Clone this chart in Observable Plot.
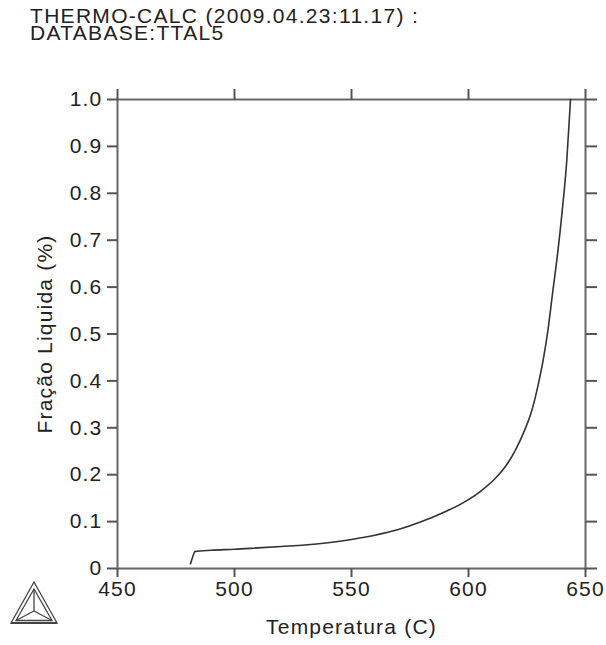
<!DOCTYPE html>
<html>
<head>
<meta charset="utf-8">
<script src="https://cdn.jsdelivr.net/npm/d3@7"></script>
<script src="https://cdn.jsdelivr.net/npm/@observablehq/plot@0.6"></script>
<style>
  html, body { margin: 0; padding: 0; background: #fff; }
  #wrap { position: relative; width: 606px; height: 645px; overflow: hidden; font-family: "Liberation Sans", Arial, sans-serif; }
  #title { position: absolute; left: 30px; top: 7px; font-size: 21px; letter-spacing: 1.3px; line-height: 17px; color: #222; white-space: pre; }
  #chart { position: absolute; left: 0; top: 50px; }
  #logo { position: absolute; left: 9px; top: 579px; }
</style>
</head>
<body>
<div id="wrap">
  <div id="title">THERMO-CALC (2009.04.23:11.17) :
DATABASE:TTAL5</div>
  <div id="chart"></div>
  <svg id="logo" width="54" height="48" viewBox="0 0 54 48">
    <g fill="none" stroke="#444" stroke-width="1.3" stroke-linejoin="miter">
      <polygon points="25,3 2,44 48,44"/>
      <polygon points="25,10 7,41.5 43,41.5"/>
      <line x1="25" y1="10" x2="25" y2="32"/>
      <line x1="25" y1="32" x2="7" y2="41.5"/>
      <line x1="25" y1="32" x2="43" y2="41.5"/>
      <line x1="2" y1="44" x2="48" y2="44" stroke-width="2"/>
    </g>
  </svg>
</div>
<script>
// Data
const temperatura = [481.2, 482.5, 483.0, 490, 500, 510, 520, 530, 540, 550, 560, 570, 580, 590, 598, 605, 612, 616, 620, 624, 627, 630, 632, 634, 636, 638, 640, 642, 643.6];
const fracaoLiquida = [0.010, 0.030, 0.036, 0.039, 0.041, 0.044, 0.047, 0.050, 0.055, 0.062, 0.071, 0.083, 0.100, 0.121, 0.141, 0.164, 0.195, 0.219, 0.252, 0.295, 0.336, 0.397, 0.447, 0.510, 0.590, 0.668, 0.760, 0.870, 1.0];
const xTicks = [450, 500, 550, 600, 650];
const yTicks = [0, 0.1, 0.2, 0.3, 0.4, 0.5, 0.6, 0.7, 0.8, 0.9, 1.0];
const yTickLabels = ["0", "0.1", "0.2", "0.3", "0.4", "0.5", "0.6", "0.7", "0.8", "0.9", "1.0"];

const data = temperatura.map((t, i) => ({T: t, f: fracaoLiquida[i]}));
const yLabelMap = new Map(yTicks.map((v, i) => [v, yTickLabels[i]]));

const chart = Plot.plot({
  width: 606,
  height: 595,
  marginTop: 49,
  marginBottom: 77,
  marginLeft: 117,
  marginRight: 21,
  style: {fontFamily: "'Liberation Sans', Arial, sans-serif", fontSize: "21px", letterSpacing: "1.2px", color: "#222", background: "#fff", overflow: "visible"},
  x: {domain: [450, 650]},
  y: {domain: [0, 1]},
  marks: [
    Plot.frame({stroke: "#666", strokeWidth: 2}),
    Plot.axisX({anchor: "bottom", ticks: xTicks, tickSize: 9, tickPadding: 4, tickFormat: d => String(d),
      label: "Temperatura (C)", labelAnchor: "center", labelArrow: "none", labelOffset: 65, stroke: "#555", strokeWidth: 2}),
    Plot.axisX({anchor: "top", ticks: xTicks, tickSize: 11, tickFormat: () => "", label: null, stroke: "#555", strokeWidth: 2}),
    Plot.axisY({anchor: "left", ticks: yTicks, tickSize: 10, tickPadding: 5, tickFormat: d => yLabelMap.get(d) ?? String(d),
      label: "Fração Liquida (%)", labelAnchor: "center", labelArrow: "none", labelOffset: 80, stroke: "#555", strokeWidth: 2}),
    Plot.axisY({anchor: "right", ticks: yTicks, tickSize: 11, tickFormat: () => "", label: null, stroke: "#555", strokeWidth: 2}),
    Plot.line(data, {x: "T", y: "f", stroke: "#333", strokeWidth: 1.6, curve: "monotone-x"})
  ]
});
document.getElementById("chart").appendChild(chart);
</script>
</body>
</html>
